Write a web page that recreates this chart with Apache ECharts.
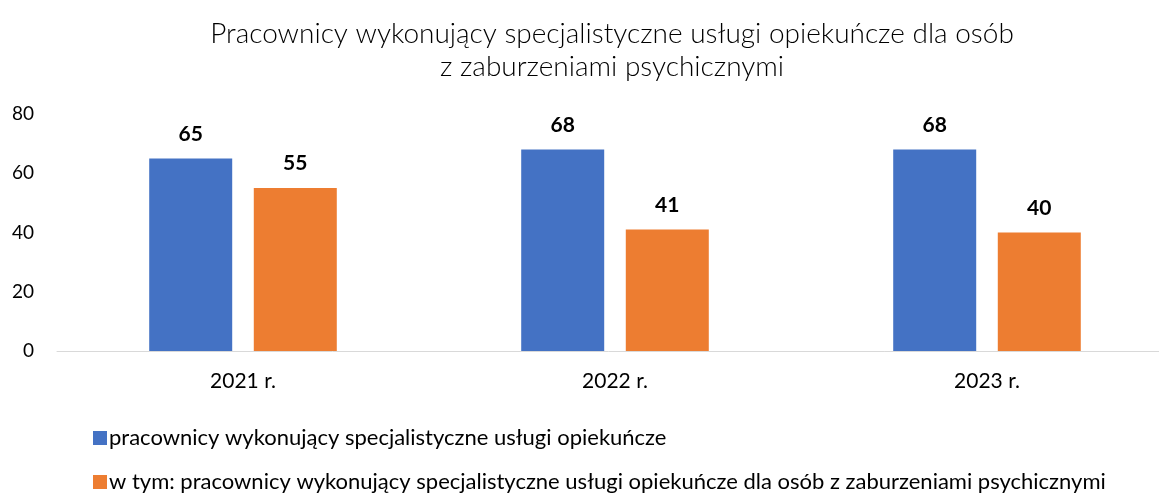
<!DOCTYPE html>
<html lang="pl">
<head>
    <meta charset="UTF-8">
    <title>Pracownicy</title>
    <script src="https://cdn.jsdelivr.net/npm/echarts@6/dist/echarts.min.js"></script>
    <style>
        html, body { margin: 0; padding: 0; background: #fff; }
        #chart { width: 1159px; height: 493px; }
    </style>
</head>
<body>
<div id="chart"></div>
<script type="text/javascript">
    // dane z wykresu
    var years = ['2021 r.', '2022 r.', '2023 r.'];
    var allWorkers = [65, 68, 68];
    var psychWorkers = [55, 41, 40];
    var seriesNames = [
        'pracownicy wykonujący specjalistyczne usługi opiekuńcze',
        'w tym: pracownicy wykonujący specjalistyczne usługi opiekuńcze dla osób z zaburzeniami psychicznymi'
    ];
    var colors = ['#4472c4', '#ed7d31'];
    var font = 'Lato, "Open Sans", sans-serif';

    var myChart = echarts.init(document.getElementById('chart'));

    var labelStyle = {
        show: true,
        position: 'top',
        distance: 14,
        fontFamily: font,
        fontSize: 21,
        fontWeight: 'bold',
        color: '#000'
    };

    // jedna legenda na wiersz
    var legendBase = {
        left: 88,
        itemWidth: 14,
        itemHeight: 14,
        icon: 'rect',
        textStyle: { fontFamily: font, fontSize: 22, color: '#000', padding: [0, 0, 0, -3] }
    };

    var option = {
        color: colors,
        textStyle: { fontFamily: font },
        title: {
            text: 'Pracownicy wykonujący specjalistyczne usługi opiekuńcze dla osób\nz zaburzeniami psychicznymi',
            left: 607,
            textAlign: 'center',
            top: 12,
            textStyle: {
                fontFamily: font,
                fontSize: 28,
                fontWeight: 300,
                color: '#000',
                lineHeight: 33
            }
        },
        legend: [
            Object.assign({}, legendBase, { top: 422, data: [seriesNames[0]] }),
            Object.assign({}, legendBase, { top: 466, data: [seriesNames[1]] })
        ],
        // oś X wychodzi poza prawą krawędź
        grid: {
            top: 114,
            left: 57,
            width: 1116,
            bottom: 142,
            outerBoundsMode: 'none'
        },
        xAxis: {
            type: 'category',
            data: years,
            axisTick: { show: false },
            axisLine: { lineStyle: { color: '#d9d9d9', width: 1 } },
            axisLabel: { fontFamily: font, fontSize: 21, color: '#000', margin: 20 }
        },
        yAxis: {
            type: 'value',
            min: 0,
            max: 80,
            interval: 20,
            splitLine: { show: false },
            axisLine: { show: false },
            axisTick: { show: false },
            axisLabel: { fontFamily: font, fontSize: 19, color: '#000', margin: 23 }
        },
        series: [
            {
                name: seriesNames[0],
                type: 'bar',
                data: allWorkers,
                barWidth: 83,
                barGap: '26%',
                label: labelStyle
            },
            {
                name: seriesNames[1],
                type: 'bar',
                data: psychWorkers,
                barWidth: 83,
                barGap: '26%',
                label: labelStyle
            }
        ]
    };
    myChart.setOption(option);
</script>
</body>
</html>
